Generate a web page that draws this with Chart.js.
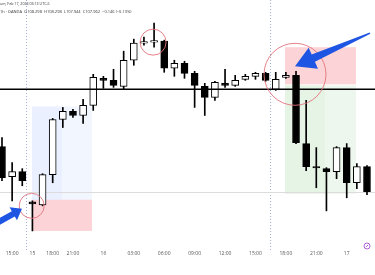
<!DOCTYPE html>
<html>
<head>
<meta charset="utf-8">
<script src="https://cdn.jsdelivr.net/npm/chart.js@4/dist/chart.umd.min.js"></script>
<style>
html,body{margin:0;padding:0;background:#fff;}
#wrap{width:375px;height:275px;position:relative;}
</style>
</head>
<body>
<div id="wrap"><canvas id="c" width="375" height="275"></canvas></div>
<script>
// hourly candles (open, high, low, close)
const opens  = [108.502,108.142,108.202,107.842,107.806,108.166,108.826,108.922,108.874,108.994,109.318,109.294,109.222,109.534,109.738,109.750,109.762,109.438,109.498,109.378,109.222,109.090,109.258,109.234,109.306,109.342,109.378,109.186,109.330,109.354,108.538,108.250,108.238,108.202,108.490,108.070,108.262];
const highs  = [108.610,108.310,108.238,107.854,108.178,108.838,108.970,108.946,109.066,109.366,109.342,109.426,109.642,109.786,109.810,109.978,109.774,109.534,109.522,109.402,109.258,109.282,109.426,109.354,109.366,109.390,109.390,109.390,109.390,109.402,109.054,108.490,108.250,108.502,108.538,108.298,108.274];
const lows   = [108.094,107.854,108.034,107.494,107.794,108.070,108.730,108.850,108.778,108.934,109.198,109.210,109.186,109.474,109.714,109.690,109.390,109.342,109.318,108.970,108.874,109.054,109.210,109.222,109.294,109.306,109.282,109.174,109.318,108.538,108.214,108.010,107.734,108.118,107.890,107.998,107.926];
const closes = [108.130,108.202,108.094,107.818,108.166,108.826,108.922,108.874,108.994,109.330,109.294,109.234,109.534,109.738,109.750,109.762,109.438,109.498,109.378,109.234,109.090,109.270,109.234,109.294,109.342,109.378,109.294,109.306,109.354,108.550,108.262,108.246,108.202,108.490,108.070,108.262,107.962];

// time axis labels (candle index -> label)
const tickIdx    = [1, 3, 5, 7, 10, 13, 16, 19, 22, 25, 28, 31, 34];
const tickLabels = ["15:00","15","18:00","21:00","16","03:00","06:00","09:00","12:00","15:00","18:00","21:00","17"];

// drawn levels / zones (candle index, price)
const levelLine = 109.186;
const greyLine  = 107.962;
const blueZone  = [2.96, 8.88, 108.982, 107.866];
const blueInner = [2.96, 5.92];
const redZoneL  = [2.96, 8.88, 107.866, 107.494];
const redZoneR  = [27.91, 34.92, 109.690, 109.246];
const greenZone = [27.91, 34.92, 109.234, 107.938];
const greenInner= [27.91, 31.86];
const sessionLines = [2.37, 26.43];
const circles = [[2.93, 107.794, 12.5],[14.9, 109.750, 13],[28.9, 109.366, 31]];
const arrowA = [-1.18, 107.542, 1.97, 107.758];
const arrowB = [36.3, 109.858, 28.9, 109.462];

const header1 = "TradingView.com, Feb 17, 2024 03:13 UTC-5";
const header2 = "1h · OANDA  O108.298  H108.298  L107.944  C107.962  −0.146 (−0.13%)";

const n = opens.length;
const bodyData = [], wickData = [], bodyColors = [];
for (let i = 0; i < n; i++) {
  bodyData.push({x: i, y: [opens[i], closes[i]]});
  wickData.push({x: i, y: [lows[i], highs[i]]});
  bodyColors.push(closes[i] >= opens[i] ? '#ffffff' : '#000000');
}

function arrow(ctx, x0, y0, x1, y1, wTail, wHead, headLen, headW) {
  const dx = x1 - x0, dy = y1 - y0, L = Math.hypot(dx, dy);
  const ux = dx / L, uy = dy / L, px = -uy, py = ux;
  const bx = x1 - ux * headLen, by = y1 - uy * headLen;
  ctx.beginPath();
  ctx.moveTo(x0 + px * wTail / 2, y0 + py * wTail / 2);
  ctx.lineTo(bx + px * wHead / 2, by + py * wHead / 2);
  ctx.lineTo(bx + px * headW / 2, by + py * headW / 2);
  ctx.lineTo(x1, y1);
  ctx.lineTo(bx - px * headW / 2, by - py * headW / 2);
  ctx.lineTo(bx - px * wHead / 2, by - py * wHead / 2);
  ctx.lineTo(x0 - px * wTail / 2, y0 - py * wTail / 2);
  ctx.closePath();
  ctx.fill();
}

const drawings = {
  id: 'drawings',
  beforeDatasetsDraw(chart) {
    const {ctx, chartArea: a, scales: {x, y}} = chart;
    ctx.save();
    const rect = (x0, x1, p0, p1, col) => {
      const X0 = x.getPixelForValue(x0), X1 = x.getPixelForValue(x1);
      const Y0 = y.getPixelForValue(p0), Y1 = y.getPixelForValue(p1);
      ctx.fillStyle = col;
      ctx.fillRect(X0, Y0, X1 - X0, Y1 - Y0);
    };
    rect(blueZone[0], blueZone[1], blueZone[2], blueZone[3], 'rgba(41,98,255,0.06)');
    rect(blueInner[0], blueInner[1], blueZone[2], blueZone[3], 'rgba(41,98,255,0.04)');
    rect(redZoneL[0], redZoneL[1], redZoneL[2], redZoneL[3], 'rgba(242,54,69,0.22)');
    rect(redZoneR[0], redZoneR[1], redZoneR[2], redZoneR[3], 'rgba(242,54,69,0.22)');
    rect(greenZone[0], greenZone[1], greenZone[2], greenZone[3], 'rgba(76,175,80,0.10)');
    rect(greenInner[0], greenInner[1], greenZone[2], greenZone[3], 'rgba(76,175,80,0.05)');
    // session separators
    ctx.strokeStyle = '#9fb0dd';
    ctx.lineWidth = 1;
    ctx.setLineDash([1, 2]);
    sessionLines.forEach(v => {
      const X = Math.round(x.getPixelForValue(v)) + 0.5;
      ctx.beginPath(); ctx.moveTo(X, a.top); ctx.lineTo(X, a.bottom + 3); ctx.stroke();
    });
    ctx.setLineDash([]);
    // grey line
    const gy = Math.round(y.getPixelForValue(greyLine)) + 0.5;
    ctx.strokeStyle = '#dcdcdc';
    ctx.beginPath(); ctx.moveTo(a.left, gy); ctx.lineTo(a.right, gy); ctx.stroke();
    ctx.restore();
  },
  afterDatasetsDraw(chart) {
    const {ctx, chartArea: a, scales: {x, y}} = chart;
    ctx.save();
    // black level
    const ly = y.getPixelForValue(levelLine);
    ctx.strokeStyle = '#000'; ctx.lineWidth = 1.5;
    ctx.beginPath(); ctx.moveTo(a.left, ly); ctx.lineTo(a.right, ly); ctx.stroke();
    // circles
    ctx.strokeStyle = '#e3737c'; ctx.lineWidth = 0.9;
    circles.forEach(c => {
      ctx.beginPath();
      ctx.arc(x.getPixelForValue(c[0]), y.getPixelForValue(c[1]), c[2], 0, Math.PI * 2);
      ctx.stroke();
    });
    // arrows
    ctx.fillStyle = '#1f55e3';
    arrow(ctx, x.getPixelForValue(arrowA[0]), y.getPixelForValue(arrowA[1]),
               x.getPixelForValue(arrowA[2]), y.getPixelForValue(arrowA[3]), 6, 6, 10, 15);
    arrow(ctx, x.getPixelForValue(arrowB[0]), y.getPixelForValue(arrowB[1]),
               x.getPixelForValue(arrowB[2]), y.getPixelForValue(arrowB[3]), 1.5, 8, 20, 23);
    ctx.restore();
  },
  afterDraw(chart) {
    const {ctx} = chart;
    ctx.save();
    ctx.fillStyle = '#333';
    ctx.textBaseline = 'middle';
    ctx.font = '3.6px "Open Sans", sans-serif';
    const off = ctx.measureText('TradingView.c').width;
    ctx.fillText(header1, -off, 4);
    ctx.font = '4px "Open Sans", sans-serif';
    ctx.fillText(header2, 0, 12);
    // small settings icon bottom-right
    ctx.strokeStyle = '#a23dc8'; ctx.lineWidth = 0.8;
    ctx.beginPath(); ctx.arc(367, 246, 3, 0, Math.PI * 2); ctx.stroke();
    ctx.beginPath(); ctx.moveTo(365.8, 247.2); ctx.lineTo(368.2, 244.8); ctx.stroke();
    ctx.restore();
  }
};

new Chart(document.getElementById('c'), {
  type: 'bar',
  data: {
    datasets: [
      {
        label: 'body',
        data: bodyData,
        backgroundColor: bodyColors,
        borderColor: '#000',
        borderWidth: 1,
        borderSkipped: false,
        barThickness: 7,
        minBarLength: 1.5,
        grouped: false
      },
      {
        label: 'wick',
        data: wickData,
        backgroundColor: '#000',
        borderWidth: 0,
        barThickness: 1,
        grouped: false
      }
    ]
  },
  options: {
    responsive: false,
    animation: false,
    devicePixelRatio: 1,
    layout: {padding: {left: 0, right: 0, top: 0, bottom: 15}},
    plugins: {legend: {display: false}, tooltip: {enabled: false}},
    scales: {
      x: {
        type: 'linear',
        offset: false,
        min: -0.197,
        max: 36.79,
        grid: {display: false, drawTicks: false, offset: false},
        border: {display: false},
        afterBuildTicks(scale) { scale.ticks = tickIdx.map(v => ({value: v})); },
        ticks: {
          autoSkip: false,
          maxRotation: 0,
          padding: 3,
          color: '#555',
          font: {size: 5, family: '"Open Sans", sans-serif'},
          callback(v) { const k = tickIdx.indexOf(v); return k >= 0 ? tickLabels[k] : ''; }
        }
      },
      y: {
        type: 'linear',
        display: false,
        min: 107.290,
        max: 110.254
      }
    }
  },
  plugins: [drawings]
});
</script>
</body>
</html>
